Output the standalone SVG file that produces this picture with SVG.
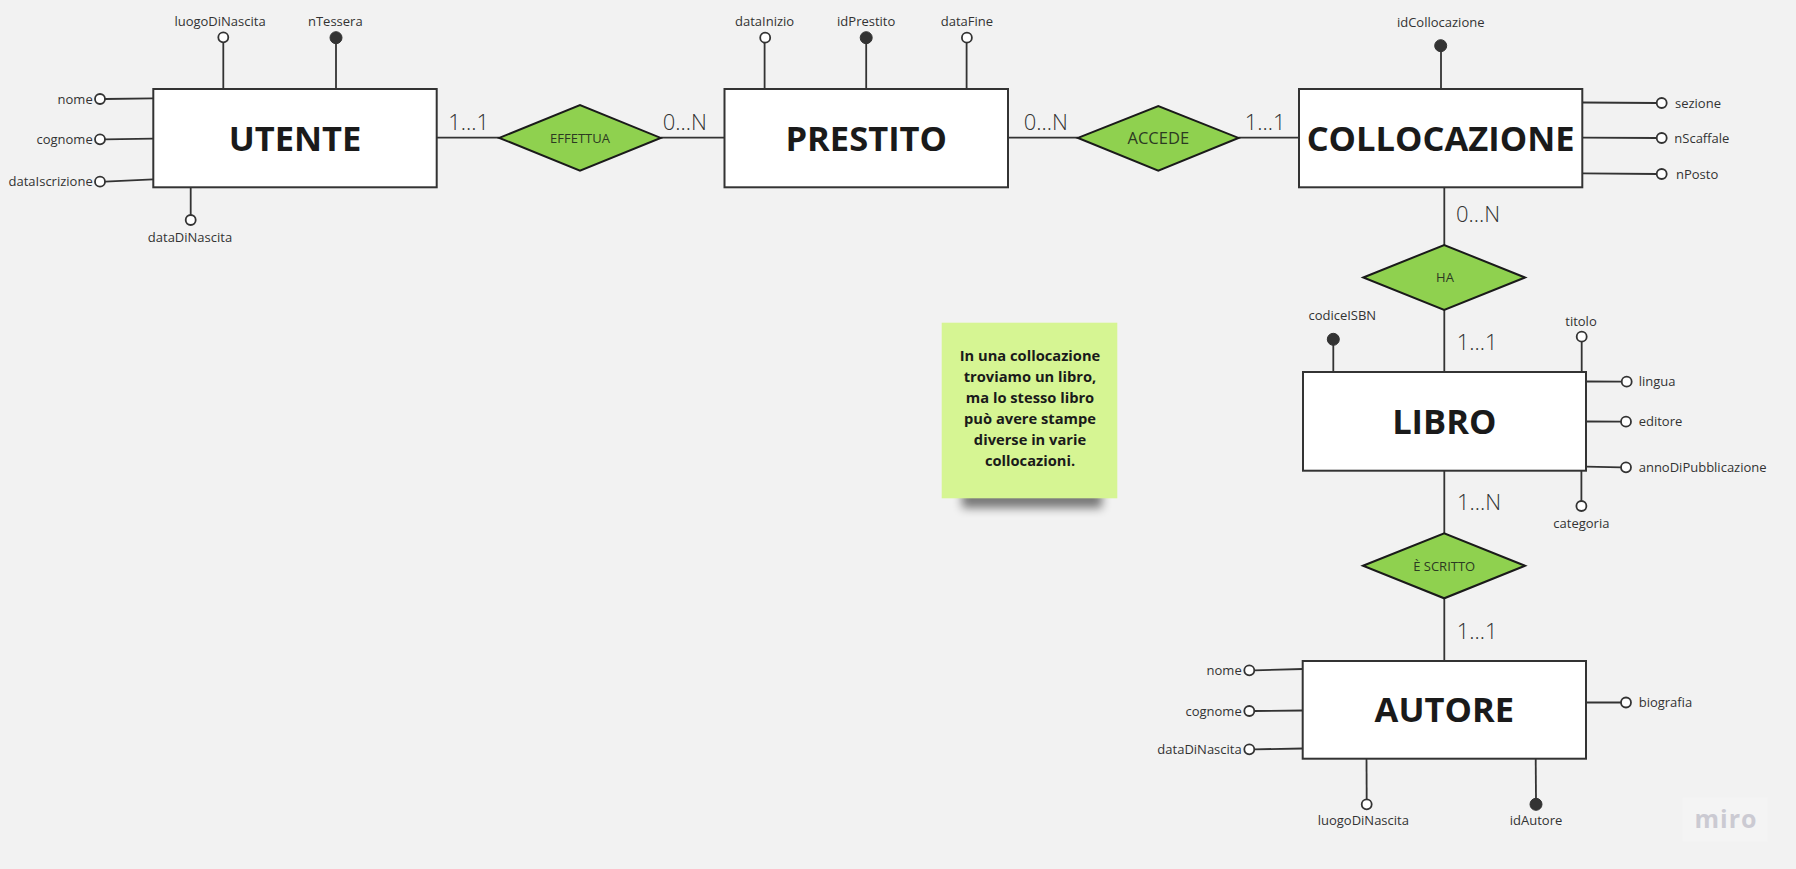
<svg xmlns="http://www.w3.org/2000/svg" width="1796" height="869" viewBox="0 0 1796 869">
<style>
text{font-family:"Open Sans","Noto Sans","Liberation Sans",sans-serif}
.ent{font-size:34.5px;font-weight:700;fill:#1a1a1a;text-anchor:middle}
.rel{font-size:13px;fill:#2c3a22;text-anchor:middle}
.card{font-size:22px;font-weight:300;fill:#333}
.attr{font-size:13px;fill:#333}
.mid{text-anchor:middle}
.end{text-anchor:end}
.box{fill:#fff;stroke:#333;stroke-width:2}
.dia{fill:#8fd14f;stroke:#1a1a1a;stroke-width:2;stroke-linejoin:miter}
.ln{stroke:#333;stroke-width:1.8;fill:none}
.oc{fill:#fff;stroke:#333;stroke-width:1.8}
.fc{fill:#333;stroke:#333;stroke-width:1}
.note{font-size:14.7px;font-weight:700;fill:#1a1a1a;text-anchor:middle}
</style>
<defs>
<filter id="sh" x="-30%" y="-100%" width="160%" height="300%"><feGaussianBlur stdDeviation="5"/></filter>
</defs>
<rect width="1796" height="869" fill="#f2f2f2"/>

<g id="connectors">
<line class="ln" x1="437" y1="137.7" x2="499.3" y2="137.7"/>
<line class="ln" x1="660.7" y1="137.7" x2="725" y2="137.7"/>
<line class="ln" x1="1008" y1="137.7" x2="1078" y2="137.7"/>
<line class="ln" x1="1238.5" y1="137.7" x2="1299" y2="137.7"/>
<line class="ln" x1="1444.3" y1="187.3" x2="1444.3" y2="245"/>
<line class="ln" x1="1444.3" y1="310" x2="1444.3" y2="372"/>
<line class="ln" x1="1444.3" y1="471" x2="1444.3" y2="533.3"/>
<line class="ln" x1="1444.3" y1="598.3" x2="1444.3" y2="661"/>
<text class="card" x="448.3" y="130">1...1</text>
<text class="card" x="662.7" y="130">0...N</text>
<text class="card" x="1023.7" y="130">0...N</text>
<text class="card" x="1244.8" y="130">1...1</text>
<text class="card" x="1456" y="221.7">0...N</text>
<text class="card" x="1456.7" y="350">1...1</text>
<text class="card" x="1457" y="510">1...N</text>
<text class="card" x="1456.7" y="639">1...1</text>
</g>

<g id="utente">
<line class="ln" x1="223.3" y1="42" x2="223.3" y2="89"/><circle class="oc" cx="223.3" cy="37.3" r="5"/><text class="attr mid" x="220" y="26">luogoDiNascita</text>
<line class="ln" x1="336" y1="42" x2="336" y2="89"/><circle class="fc" cx="336" cy="37.7" r="6"/><text class="attr mid" x="335.3" y="26">nTessera</text>
<line class="ln" x1="105" y1="99" x2="153" y2="98.3"/><circle class="oc" cx="100" cy="99" r="5"/><text class="attr end" x="92.7" y="103.5">nome</text>
<line class="ln" x1="105" y1="139.3" x2="153" y2="138.7"/><circle class="oc" cx="100" cy="139.3" r="5"/><text class="attr end" x="92.7" y="143.8">cognome</text>
<line class="ln" x1="105" y1="181.7" x2="153" y2="179.3"/><circle class="oc" cx="100" cy="181.7" r="5"/><text class="attr end" x="92.7" y="186.2">dataIscrizione</text>
<line class="ln" x1="190.7" y1="188" x2="190.7" y2="215"/><circle class="oc" cx="190.7" cy="220" r="5"/><text class="attr mid" x="190" y="241.7">dataDiNascita</text>
<rect class="box" x="153.3" y="89" width="283.4" height="98.3"/>
<text class="ent" x="295" y="150.7">UTENTE</text>
</g>

<g id="effettua">
<polygon class="dia" points="499.3,137.9 580,105 660.7,137.9 580,170.7"/>
<text class="rel" x="580" y="143.3">EFFETTUA</text>
</g>

<g id="prestito">
<line class="ln" x1="764.6" y1="42.5" x2="764.6" y2="89"/><circle class="oc" cx="765.2" cy="37.7" r="5"/><text class="attr mid" x="764.6" y="26">dataInizio</text>
<line class="ln" x1="866.2" y1="42.5" x2="866.2" y2="89"/><circle class="fc" cx="866.2" cy="37.7" r="6"/><text class="attr mid" x="866.2" y="26">idPrestito</text>
<line class="ln" x1="966.6" y1="42.5" x2="966.6" y2="89"/><circle class="oc" cx="966.9" cy="37.7" r="5"/><text class="attr mid" x="966.9" y="26">dataFine</text>
<rect class="box" x="724.5" y="89" width="283.5" height="98.3"/>
<text class="ent" x="866.2" y="150.7">PRESTITO</text>
</g>

<g id="accede">
<polygon class="dia" points="1078,137.9 1158.3,106 1238.5,137.9 1158.3,170.7"/>
<text class="rel" x="1158.3" y="144" style="font-size:16.5px">ACCEDE</text>
</g>

<g id="collocazione">
<line class="ln" x1="1441" y1="50" x2="1441" y2="89"/><circle class="fc" cx="1440.7" cy="45.7" r="6"/><text class="attr mid" x="1440.7" y="26.7">idCollocazione</text>
<line class="ln" x1="1583" y1="102.5" x2="1656.7" y2="103"/><circle class="oc" cx="1661.7" cy="103" r="5"/><text class="attr" x="1675" y="108.3">sezione</text>
<line class="ln" x1="1583" y1="137.7" x2="1656.7" y2="138"/><circle class="oc" cx="1661.7" cy="138" r="5"/><text class="attr" x="1674.3" y="142.5">nScaffale</text>
<line class="ln" x1="1583" y1="173.3" x2="1656.7" y2="174"/><circle class="oc" cx="1661.7" cy="174" r="5"/><text class="attr" x="1676" y="178.5">nPosto</text>
<rect class="box" x="1299" y="89" width="283.3" height="98.3"/>
<text class="ent" x="1440.6" y="151">COLLOCAZIONE</text>
</g>

<g id="ha">
<polygon class="dia" points="1363.3,277.5 1444.2,245 1525,277.5 1444.2,310"/>
<text class="rel" x="1445" y="282">HA</text>
</g>

<g id="libro">
<line class="ln" x1="1333.3" y1="344" x2="1333.3" y2="372"/><circle class="fc" cx="1333.3" cy="339.3" r="6"/><text class="attr mid" x="1342.3" y="320">codiceISBN</text>
<line class="ln" x1="1581.7" y1="341.5" x2="1581.7" y2="372"/><circle class="oc" cx="1581.7" cy="336.7" r="5"/><text class="attr mid" x="1581" y="325.7">titolo</text>
<line class="ln" x1="1586" y1="381.5" x2="1621.7" y2="381.7"/><circle class="oc" cx="1626.7" cy="381.7" r="5"/><text class="attr" x="1638.7" y="386">lingua</text>
<line class="ln" x1="1586" y1="421.5" x2="1621" y2="421.7"/><circle class="oc" cx="1626" cy="421.7" r="5"/><text class="attr" x="1638.7" y="426">editore</text>
<line class="ln" x1="1586" y1="466.7" x2="1621" y2="467.3"/><circle class="oc" cx="1626" cy="467.3" r="5"/><text class="attr" x="1638.7" y="471.8">annoDiPubblicazione</text>
<line class="ln" x1="1581.4" y1="471" x2="1581.4" y2="501"/><circle class="oc" cx="1581.4" cy="506" r="5"/><text class="attr mid" x="1581.4" y="527.7">categoria</text>
<rect class="box" x="1303" y="372" width="283" height="98.7"/>
<text class="ent" x="1444.3" y="434">LIBRO</text>
</g>

<g id="e-scritto">
<polygon class="dia" points="1363,565.8 1444.2,533.3 1525,565.8 1444.2,598.3"/>
<text class="rel" x="1444.2" y="571">È SCRITTO</text>
</g>

<g id="autore">
<line class="ln" x1="1254.3" y1="670.3" x2="1302.7" y2="669"/><circle class="oc" cx="1249.3" cy="670.3" r="5"/><text class="attr end" x="1241.7" y="675">nome</text>
<line class="ln" x1="1254.3" y1="711" x2="1302.7" y2="710.5"/><circle class="oc" cx="1249.3" cy="711" r="5"/><text class="attr end" x="1241.7" y="715.5">cognome</text>
<line class="ln" x1="1254.3" y1="749.3" x2="1302.7" y2="748.5"/><circle class="oc" cx="1249.3" cy="749.3" r="5"/><text class="attr end" x="1241.7" y="753.8">dataDiNascita</text>
<line class="ln" x1="1366.5" y1="759" x2="1366.7" y2="799.3"/><circle class="oc" cx="1366.7" cy="804.3" r="5"/><text class="attr mid" x="1363.3" y="825">luogoDiNascita</text>
<line class="ln" x1="1535.7" y1="759" x2="1536" y2="800"/><circle class="fc" cx="1536" cy="804.3" r="6"/><text class="attr mid" x="1536" y="825">idAutore</text>
<line class="ln" x1="1586" y1="702.5" x2="1621" y2="702.5"/><circle class="oc" cx="1626" cy="702.5" r="5"/><text class="attr" x="1638.7" y="707">biografia</text>
<rect class="box" x="1302.7" y="661" width="283.3" height="97.7"/>
<text class="ent" x="1444.3" y="722.3">AUTORE</text>
</g>

<g id="sticky-note">
<rect x="962" y="490" width="140" height="18" fill="#000" opacity="0.5" filter="url(#sh)"/>
<rect x="941.7" y="322.7" width="175.6" height="175.6" fill="#d6f593"/>
<text class="note" x="1030" y="360.7">In una collocazione</text>
<text class="note" x="1030" y="381.8">troviamo un libro,</text>
<text class="note" x="1030" y="402.8">ma lo stesso libro</text>
<text class="note" x="1030" y="423.9">può avere stampe</text>
<text class="note" x="1030" y="445">diverse in varie</text>
<text class="note" x="1030" y="466">collocazioni.</text>
</g>

<g id="miro-logo">
<rect x="1682.7" y="797.3" width="85" height="44.4" fill="#f4f4f4"/>
<text x="1726" y="827.5" text-anchor="middle" style="font-size:25px;font-weight:700;fill:#cbcad2;letter-spacing:1px">miro</text>
</g>
</svg>
